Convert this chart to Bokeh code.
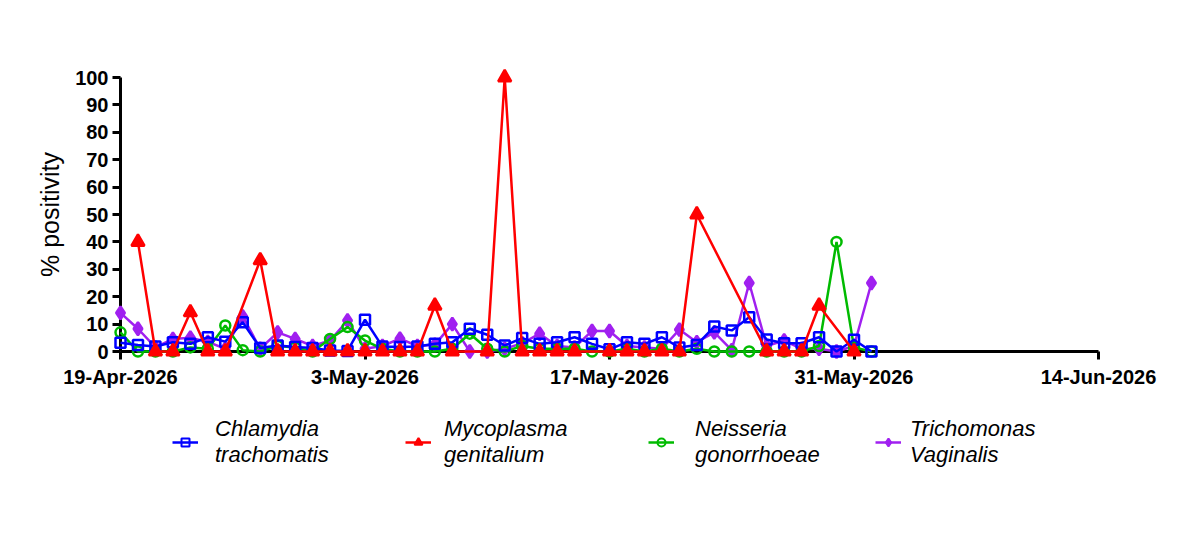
import numpy as np
import pandas as pd
from bokeh.plotting import figure
from bokeh.layouts import column
from bokeh.models import Range1d, FixedTicker, Legend, LegendItem, ColumnDataSource
from bokeh.embed import file_html
from bokeh.resources import INLINE

# Daily % positivity, 19-Apr-2026 .. 1-Jun-2026 (None = no result that day)
dates = pd.date_range("2026-04-19", periods=44, freq="D")

chlamydia = [3.2, 2.4, 1.8, 3.4, 2.8, 5.2, 3.6, 10.7, 1.3, 2.2, 1.6, 1.3, 0.4, 0.2,
             11.6, 1.8, 1.6, 1.8, 2.8, 3.4, 8.3, 6.1, 2.2, 4.9, 2.8, 3.4, 5.2, 2.8,
             0.8, 3.4, 2.8, 5.2, 1.5, 2.4, 9.1, 7.7, 12.5, 4.4, 3.0, 3.0, 5.2, 0.0,
             4.3, 0.0]
mycoplasma = [None, 40, 0, 0, 14.3, 0, 0, None, 33.3, 0, 0, 0, 0, 0,
              0, 0, 0, 0, 16.7, 0, None, 0, 100, 0, 0, 0, 0, None,
              0, 0, 0, 0, 0, 50, None, None, None, 0, 0, 0, 16.7, None,
              0, None]
neisseria = [7, 0, 0, 0, 1.5, 1, 9.5, 0.5, 0, 2, 1.5, 0, 4.6, 8.9,
             4, 1, 0, 0, 0, 1, 6.5, 1, 0, 2, 1, 1, 1, 0,
             0, 1, 0, 1, 0, 1, 0, 0, 0, 0, 0, 0, 2, 40,
             1.5, 0]
trichomonas = [14.1, 8.3, 1.5, 4.6, 5, 3.5, 1, 12.8, 1, 7, 4.6, 2, 4, 11.3,
               1, 2, 4.7, 2, 2.5, 10, 0, 0, 1, 3, 6.5, 2, 1.5, 7.5,
               7.5, 2, 1.5, 1, 8, 3.4, 7, 0.5, 25, 2, 4, 1, 1, 0,
               2, 25]

series_names = ["Chlamydia\ntrachomatis", "Mycoplasma\ngenitalium",
                "Neisseria\ngonorrhoeae", "Trichomonas\nVaginalis"]
series_values = [chlamydia, mycoplasma, neisseria, trichomonas]
series_colors = ["#0000FF", "#FF0000", "#00BB00", "#A020F0"]
series_markers = ["square", "triangle", "circle", "diamond"]
series_fill = [False, True, False, True]
series_sizes = [10, 13, 10, 13]

tick_dates = ["2026-04-19", "2026-05-03", "2026-05-17", "2026-05-31", "2026-06-14"]
tick_labels = ["19-Apr-2026", "3-May-2026", "17-May-2026", "31-May-2026", "14-Jun-2026"]
y_ticks = list(range(0, 101, 10))

def ms(d):
    return pd.Timestamp(d).value / 1e6

x0 = ms(tick_dates[0])
x1 = ms(tick_dates[-1])

font = "Liberation Sans"
LEFT, RIGHT = 120, 102

# ---- main chart -------------------------------------------------------------
p = figure(width=1200, height=400, x_axis_type="datetime",
           output_backend="svg", toolbar_location=None,
           x_range=Range1d(x0, x1), y_range=Range1d(0, 100),
           min_border_left=LEFT, min_border_right=RIGHT,
           min_border_top=77, min_border_bottom=49)
p.outline_line_color = None
p.xgrid.visible = False
p.ygrid.visible = False
p.background_fill_color = "white"
p.border_fill_color = "white"

xa = p.xaxis[0]
xa.ticker = FixedTicker(ticks=[ms(d) for d in tick_dates])
xa.major_label_overrides = {ms(d): lab for d, lab in zip(tick_dates, tick_labels)}
ya = p.yaxis[0]
ya.ticker = FixedTicker(ticks=y_ticks)
ya.axis_label = "% positivity"
ya.axis_label_text_font = font
ya.axis_label_text_font_style = "normal"
ya.axis_label_text_font_size = "25px"
ya.axis_label_text_color = "black"
ya.axis_label_standoff = 8

for ax in (xa, ya):
    ax.axis_line_width = 3
    ax.axis_line_color = "black"
    ax.major_tick_line_width = 3
    ax.major_tick_out = 8
    ax.major_tick_in = 0
    ax.minor_tick_line_color = None
    ax.major_label_text_font = font
    ax.major_label_text_font_style = "bold"
    ax.major_label_text_font_size = "20px"
    ax.major_label_text_color = "black"
xa.major_label_standoff = 6
ya.major_label_standoff = 4

# series drawn above the frame edges so points at 0 and on the first day show whole
draw_order = [3, 2, 0, 1]
for i in draw_order:
    vals = series_values[i]
    xs = [d for d, v in zip(dates, vals) if v is not None]
    ys = [v for v in vals if v is not None]
    src = ColumnDataSource(data=dict(x=xs, y=ys))
    c = series_colors[i]
    p.line("x", "y", source=src, line_color=c, line_width=2.5, level="overlay")
    p.scatter("x", "y", source=src, marker=series_markers[i],
              size=series_sizes[i], line_color=c, line_width=2.5,
              fill_color=c if series_fill[i] else None, level="overlay")

# ---- legend strip under the chart -------------------------------------------
lg = figure(width=1200, height=134, output_backend="svg", toolbar_location=None,
            x_axis_location=None, y_axis_location=None,
            x_range=Range1d(0, 1), y_range=Range1d(0, 1),
            min_border_left=LEFT, min_border_right=RIGHT,
            min_border_top=0, min_border_bottom=0)
lg.outline_line_color = None
lg.xgrid.visible = False
lg.ygrid.visible = False

# key glyphs: one point outside the strip's ranges, so only the key swatch shows
key_x = [-1.0]
key_y = [-1.0]
key_left = [52, 285, 528, 755]      # px from the left edge of the strip's frame
key_gap = [17, 13, 21, 9]
for i in range(4):
    c = series_colors[i]
    key_src = ColumnDataSource(data=dict(x=key_x, y=key_y))
    r_line = lg.line("x", "y", source=key_src, line_color=c, line_width=2.5)
    r_mark = lg.scatter("x", "y", source=key_src, marker=series_markers[i],
                        size=series_sizes[i] - 3, line_color=c, line_width=2,
                        fill_color=c if series_fill[i] else None)
    legend = Legend(items=[LegendItem(label=series_names[i], renderers=[r_line, r_mark])],
                    location=(key_left[i], 66),
                    label_text_font=font, label_text_font_style="italic",
                    label_text_font_size="22px", label_text_line_height=0.92,
                    label_text_color="black",
                    glyph_width=26, glyph_height=20, label_standoff=key_gap[i],
                    padding=0, margin=0,
                    border_line_color=None, background_fill_alpha=0)
    lg.add_layout(legend)

layout = column(p, lg, spacing=0)
open("out.html", "w").write(file_html(layout, INLINE))
